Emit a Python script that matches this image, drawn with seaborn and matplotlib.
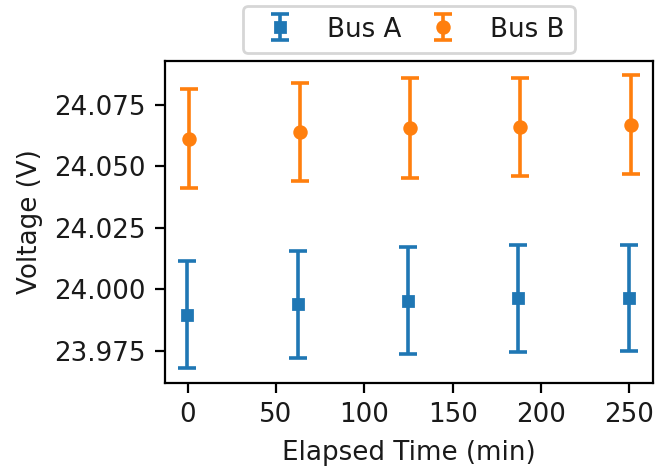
import matplotlib
matplotlib.use("Agg")
import matplotlib.pyplot as plt
import seaborn as sns

# ─── Data ─────────────────────────────────────────────────────────────────────
time_a = [-0.3, 62.3, 124.6, 187.0, 249.5]
volt_a = [23.9897, 23.9939, 23.9954, 23.9964, 23.9966]
err_a = [0.0218, 0.0218, 0.0217, 0.0218, 0.0216]

time_b = [1.0, 63.4, 125.6, 188.2, 250.6]
volt_b = [24.0613, 24.0639, 24.0657, 24.0660, 24.0670]
err_b = [0.0202, 0.0200, 0.0203, 0.0200, 0.0200]

labels = ["Bus A", "Bus B"]

# ─── Style ────────────────────────────────────────────────────────────────────
FS = 9.4
sns.set_theme(style="ticks", rc={
    "font.size": FS, "axes.labelsize": FS, "xtick.labelsize": FS,
    "ytick.labelsize": FS, "legend.fontsize": FS,
    "axes.edgecolor": "black", "axes.linewidth": 0.8,
    "xtick.color": "black", "ytick.color": "black",
    "text.color": "#1a1a1a", "axes.labelcolor": "#1a1a1a",
    "xtick.labelcolor": "#1a1a1a", "ytick.labelcolor": "#1a1a1a",
    "xtick.major.width": 0.8, "ytick.major.width": 0.8,
    "xtick.major.size": 3.5, "ytick.major.size": 3.5,
})
plt.rcParams["font.family"] = ["DejaVu Sans"]
colors = sns.color_palette("tab10", 2)

fig = plt.figure(figsize=(6.59 / 2, 4.68 / 2), dpi=200)
ax = fig.add_axes([0.2504, 0.1816, 0.74, 0.6884])

ax.errorbar(time_a, volt_a, yerr=err_a, fmt="s", color=colors[0], ms=3.5,
            capsize=3.2, elinewidth=1.3, capthick=1.3, label=labels[0])
ax.errorbar(time_b, volt_b, yerr=err_b, fmt="o", color=colors[1], ms=4.2,
            capsize=3.2, elinewidth=1.3, capthick=1.3, label=labels[1])

ax.set_xticks([0, 50, 100, 150, 200, 250])
ax.set_yticks([23.975, 24.000, 24.025, 24.050, 24.075])
ax.set_xlabel("Elapsed Time (min)")
ax.set_ylabel("Voltage (V)")

ax.legend(loc="lower center", bbox_to_anchor=(0.5, 1.0), ncol=2,
          borderaxespad=0.3, columnspacing=0.6, frameon=True)

fig.savefig("out.png", dpi=200)
